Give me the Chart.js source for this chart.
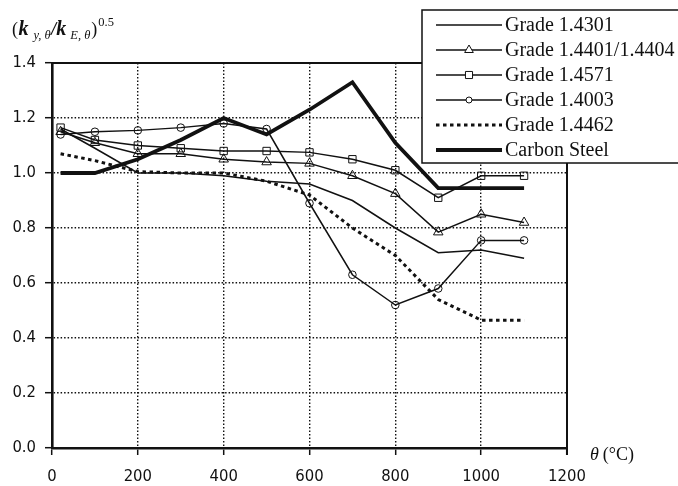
<!DOCTYPE html>
<html>
<head>
<meta charset="utf-8">
<script src="https://cdn.jsdelivr.net/npm/chart.js@4"></script>
<style>
  html, body { margin: 0; padding: 0; background: #fff; }
  #wrap { width: 678px; height: 486px; }
</style>
</head>
<body>
<div id="wrap"><canvas id="ratioChart" width="678" height="486"></canvas></div>
<script>
// temperatures (deg C)
const temps = [20, 100, 200, 300, 400, 500, 600, 700, 800, 900, 1000, 1100];

// (k_y / k_E)^0.5
const grade4301 = [1.16, 1.09, 1.00, 1.00, 0.99, 0.97, 0.96, 0.90, 0.80, 0.71, 0.72, 0.69];
const grade4401 = [1.15, 1.11, 1.07, 1.07, 1.05, 1.04, 1.035, 0.99, 0.925, 0.785, 0.85, 0.82];
const grade4571 = [1.165, 1.12, 1.10, 1.09, 1.08, 1.08, 1.075, 1.05, 1.01, 0.91, 0.99, 0.99];
const grade4003 = [1.14, 1.15, 1.155, 1.165, 1.18, 1.16, 0.89, 0.63, 0.52, 0.58, 0.755, 0.755];
const grade4462 = [1.07, 1.045, 1.005, 1.00, 1.00, 0.97, 0.92, 0.80, 0.70, 0.54, 0.465, 0.465];
const carbonSteel = [1.00, 1.00, 1.05, 1.12, 1.20, 1.14, 1.23, 1.33, 1.11, 0.945, 0.945, 0.945];

const xTicks = [0, 200, 400, 600, 800, 1000, 1200];
const yTicks = [0.0, 0.2, 0.4, 0.6, 0.8, 1.0, 1.2, 1.4];

function pts(vals) {
  return vals.map((v, i) => ({ x: temps[i], y: v }));
}

const ink = '#111';
const serif = '"Liberation Serif", "Times New Roman", serif';

function series(label, vals, extra) {
  return Object.assign({
    label: label,
    data: pts(vals),
    borderColor: ink,
    borderWidth: 1.5,
    pointRadius: 0,
    pointBorderColor: ink,
    pointBorderWidth: 1,
    pointBackgroundColor: 'rgba(255,255,255,0)',
    tension: 0,
    fill: false
  }, extra || {});
}

const datasets = [
  series('Grade 1.4301', grade4301),
  series('Grade 1.4401/1.4404', grade4401, { pointStyle: 'triangle', pointRadius: 5.5 }),
  series('Grade 1.4571', grade4571, { pointStyle: 'rect', pointRadius: 5.2 }),
  series('Grade 1.4003', grade4003, { pointStyle: 'circle', pointRadius: 3.8 }),
  series('Grade 1.4462', grade4462, { borderWidth: 3, borderDash: [3.5, 3.5] }),
  series('Carbon Steel', carbonSteel, { borderWidth: 3.8 })
];

function drawMarker(ctx, style, x, y, r) {
  ctx.beginPath();
  if (style === 'triangle') {
    const h = r * 1.5, half = r * Math.sqrt(3) / 2;
    ctx.moveTo(x, y - r);
    ctx.lineTo(x + half, y - r + h);
    ctx.lineTo(x - half, y - r + h);
    ctx.closePath();
  } else if (style === 'rect') {
    const s = r * Math.SQRT1_2;
    ctx.rect(x - s, y - s, 2 * s, 2 * s);
  } else {
    ctx.arc(x, y, r, 0, Math.PI * 2);
  }
  ctx.fillStyle = '#fff';
  ctx.fill();
  ctx.stroke();
}

// frame, axis titles and boxed legend drawn on top
const decorations = {
  id: 'decorations',
  afterDraw(chart) {
    const ctx = chart.ctx;
    const a = chart.chartArea;
    ctx.save();

    // top and right frame
    ctx.strokeStyle = ink;
    ctx.lineWidth = 2;
    ctx.setLineDash([]);
    ctx.beginPath();
    ctx.moveTo(a.left, a.top);
    ctx.lineTo(a.right, a.top);
    ctx.lineTo(a.right, a.bottom + 7);
    ctx.stroke();

    // y axis title: (k y,θ / k E,θ)^0.5
    ctx.fillStyle = ink;
    ctx.textBaseline = 'alphabetic';
    let x = 12;
    const base = 35;
    const put = (txt, font, dy, gap) => {
      ctx.font = font;
      ctx.fillText(txt, x, base + dy);
      x += ctx.measureText(txt).width + (gap || 0);
    };
    put('(', '18px ' + serif, 0, 0.5);
    put('k', 'bold italic 20px ' + serif, 0, 5);
    put('y, \u03b8', 'italic 12.5px ' + serif, 4, 0.5);
    put('/', 'bold italic 18px ' + serif, 0, 0);
    put('k', 'bold italic 20px ' + serif, 0, 4);
    put('E, \u03b8', 'italic 12.5px ' + serif, 4, 1);
    put(')', '18px ' + serif, 0, 1);
    put('0.5', '12.5px ' + serif, -9, 0);

    // x axis title
    x = 590;
    ctx.textBaseline = 'middle';
    ctx.font = 'italic 18px ' + serif;
    ctx.fillText('\u03b8', x, 455);
    x += ctx.measureText('\u03b8').width + 4;
    ctx.font = '18px ' + serif;
    ctx.fillText('(\u00b0C)', x, 455);

    // legend box
    ctx.fillStyle = '#fff';
    ctx.fillRect(422, 10, 270, 153);
    ctx.strokeStyle = ink;
    ctx.lineWidth = 1.5;
    ctx.strokeRect(422, 10, 270, 153);

    chart.data.datasets.forEach((ds, i) => {
      const y = 25 + i * 25;
      ctx.save();
      ctx.strokeStyle = ink;
      ctx.lineWidth = ds.borderWidth;
      ctx.setLineDash(ds.borderDash || []);
      ctx.beginPath();
      ctx.moveTo(436, y);
      ctx.lineTo(502, y);
      ctx.stroke();
      ctx.setLineDash([]);
      ctx.lineWidth = 1;
      if (ds.pointRadius > 0) {
        drawMarker(ctx, ds.pointStyle, 469, y, ds.pointStyle === 'circle' ? 3 : 5);
      }
      ctx.restore();
      ctx.fillStyle = ink;
      ctx.font = '20px ' + serif;
      ctx.textBaseline = 'middle';
      ctx.fillText(ds.label, 505, y + 1);
    });

    ctx.restore();
  }
};

const tickFont = { family: '"DejaVu Sans Condensed", "DejaVu Sans", sans-serif', size: 16.5 };

const chart = new Chart(document.getElementById('ratioChart').getContext('2d'), {
  type: 'line',
  data: { datasets: datasets },
  options: {
    responsive: false,
    animation: false,
    layout: { padding: { top: 63, right: 111, left: 0, bottom: 0 } },
    plugins: {
      legend: { display: false },
      tooltip: { enabled: false }
    },
    scales: {
      x: {
        type: 'linear',
        min: 0,
        max: 1200,
        afterFit(scale) { scale.height = 38; },
        afterBuildTicks(scale) { scale.ticks = xTicks.map(v => ({ value: v })); },
        ticks: { color: ink, font: tickFont, padding: 12, maxRotation: 0, callback: v => String(v) },
        grid: { color: ink, lineWidth: 1.4, tickColor: ink, tickWidth: 1.5, tickLength: 7 },
        border: { display: true, color: ink, width: 2.6, dash: [1.5, 2] }
      },
      y: {
        min: 0,
        max: 1.4,
        afterFit(scale) { scale.width = 52; },
        afterBuildTicks(scale) { scale.ticks = yTicks.map(v => ({ value: v })); },
        ticks: { color: ink, font: tickFont, padding: 9, callback: v => v.toFixed(1) },
        grid: { color: ink, lineWidth: 1.4, tickColor: ink, tickWidth: 1.5, tickLength: 7 },
        border: { display: true, color: ink, width: 2.6, dash: [1.5, 2] }
      }
    }
  },
  plugins: [decorations]
});
</script>
</body>
</html>
